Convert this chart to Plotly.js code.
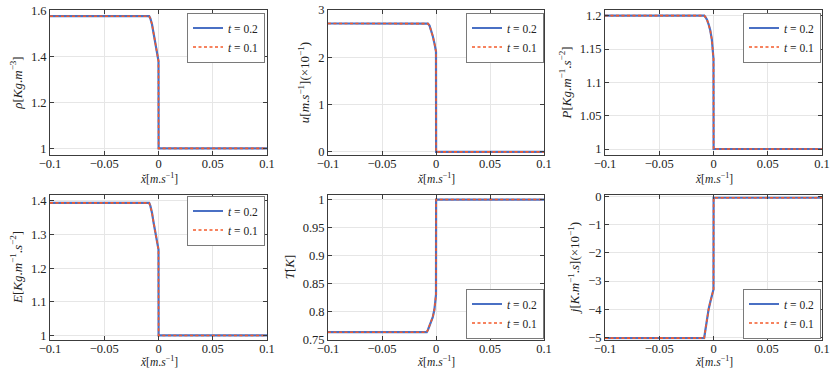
<!DOCTYPE html>
<html>
<head>
<meta charset="utf-8">
<script src="https://cdn.plot.ly/plotly-3.0.1.min.js"></script>
<style>html,body{margin:0;padding:0;background:#fff;}#chart{width:831px;height:369px;}</style>
</head>
<body>
<div id="chart"></div>
<script>
// Similarity variable x̆ (shared sample grid)
const xGrid = [-0.1, -0.0086, -0.0075, -0.006, -0.0045, -0.003, -0.0015, -0.0005, 0, 0.0001, 0.1];

// Values (t = 0.2 and t = 0.1 curves coincide)
const rho = [1.575, 1.575, 1.565, 1.54, 1.50, 1.46, 1.43, 1.41, 1.38, 1.0, 1.0];
const uVel = [2.715, 2.715, 2.712, 2.67, 2.58, 2.45, 2.30, 2.20, 2.12, 0, 0];
const pres = [1.2, 1.2, 1.198, 1.194, 1.187, 1.178, 1.164, 1.15, 1.135, 1.0, 1.0];
const energy = [1.394, 1.394, 1.385, 1.365, 1.335, 1.31, 1.285, 1.27, 1.255, 1.0, 1.0];
const temp = [0.763, 0.763, 0.767, 0.774, 0.782, 0.79, 0.803, 0.818, 0.83, 1.0, 1.0];
const flux = [-5.03, -5.03, -4.75, -4.35, -4.0, -3.75, -3.55, -3.42, -3.3, -0.035, -0.035];

const seriesNames = ['<i>t</i> = 0.2', '<i>t</i> = 0.1'];
const xTicks = [-0.1, -0.05, 0, 0.05, 0.1];
const xTickText = ['\u22120.1', '\u22120.05', '0', '0.05', '0.1'];
const xTitle = '<i>x̆</i>[<i>m</i>.<i>s</i><sup>\u22121</sup>]';

const panels = [
  {y: rho, title: '<i>ρ</i>[<i>Kg</i>.<i>m</i><sup>\u22123</sup>]', range: [0.971, 1.602],
   ticks: [1, 1.2, 1.4, 1.6], text: ['1', '1.2', '1.4', '1.6'], legendPos: 'top'},
  {y: uVel, title: '<i>u</i>[<i>m</i>.<i>s</i><sup>\u22121</sup>](×10<sup>\u22121</sup>)', range: [-0.065, 3.0],
   ticks: [0, 1, 2, 3], text: ['0', '1', '2', '3'], legendPos: 'top'},
  {y: pres, title: '<i>P</i>[<i>Kg</i>.<i>m</i><sup>\u22121</sup>.<i>s</i><sup>\u22122</sup>]', range: [0.991, 1.2085],
   ticks: [1, 1.05, 1.1, 1.15, 1.2], text: ['1', '1.05', '1.1', '1.15', '1.2'], legendPos: 'top'},
  {y: energy, title: '<i>E</i>[<i>Kg</i>.<i>m</i><sup>\u22121</sup>.<i>s</i><sup>\u22122</sup>]', range: [0.988, 1.419],
   ticks: [1, 1.1, 1.2, 1.3, 1.4], text: ['1', '1.1', '1.2', '1.3', '1.4'], legendPos: 'top'},
  {y: temp, title: '<i>T</i>[<i>K</i>]', range: [0.75, 1.009],
   ticks: [0.75, 0.8, 0.85, 0.9, 0.95, 1], text: ['0.75', '0.8', '0.85', '0.9', '0.95', '1'], legendPos: 'bottom'},
  {y: flux, title: '<i>j</i>[<i>K</i>.<i>m</i><sup>\u22121</sup>.<i>s</i>](×10<sup>\u22121</sup>)', range: [-5.08, 0.08],
   ticks: [-5, -4, -3, -2, -1, 0], text: ['\u22125', '\u22124', '\u22123', '\u22122', '\u22121', '0'], legendPos: 'bottom'}
];

const W = 831, H = 369;
const colPx = [[50, 267], [328, 544], [605, 822]];
const rowPx = [[10, 155], [194.5, 339.5]];
const xTitleBottom = [186, 369];
const legendRight = [265, 544, 821];
const legendTop = [12.5, 195.5];
const legendBottom = [338.5, 338.5];

const fontFam = 'Liberation Serif, DejaVu Serif, serif';
const axisColor = '#3c3c3c';
const gridColor = '#e6e6e6';

const traces = [];
const annotations = [];
const layout = {
  width: W, height: H,
  margin: {l: 0, r: 0, t: 0, b: 0, autoexpand: false},
  paper_bgcolor: '#ffffff', plot_bgcolor: '#ffffff',
  font: {family: fontFam, size: 12.5, color: '#222'},
  showlegend: true,
  annotations: annotations
};

panels.forEach((p, i) => {
  const r = Math.floor(i / 3), c = i % 3;
  const n = i + 1;
  const xa = n === 1 ? 'x' : 'x' + n;
  const ya = n === 1 ? 'y' : 'y' + n;
  const lg = n === 1 ? 'legend' : 'legend' + n;
  traces.push({x: xGrid, y: p.y, xaxis: xa, yaxis: ya, mode: 'lines', name: seriesNames[0],
    legend: lg, line: {color: '#4a70c4', width: 2.2}});
  traces.push({x: xGrid, y: p.y, xaxis: xa, yaxis: ya, mode: 'lines', name: seriesNames[1],
    legend: lg, line: {color: '#f45a2a', width: 1.6, dash: '3px,2.5px'}});

  const common = {
    showline: true, linecolor: axisColor, linewidth: 1, mirror: 'ticks',
    ticks: 'inside', ticklen: 4, tickcolor: axisColor, tickwidth: 1,
    showgrid: true, gridcolor: gridColor, gridwidth: 1, zeroline: false,
    tickfont: {family: fontFam, size: 12.5, color: '#222'}, automargin: false
  };
  layout[n === 1 ? 'xaxis' : 'xaxis' + n] = Object.assign({}, common, {
    domain: [colPx[c][0] / W, colPx[c][1] / W], anchor: ya,
    range: [-0.1, 0.1], tickmode: 'array', tickvals: xTicks, ticktext: xTickText,
    ticklabelstandoff: -3
  });
  layout[n === 1 ? 'yaxis' : 'yaxis' + n] = Object.assign({}, common, {
    domain: [1 - rowPx[r][1] / H, 1 - rowPx[r][0] / H], anchor: xa,
    range: p.range, tickmode: 'array', tickvals: p.ticks, ticktext: p.text,
    title: {text: p.title, font: {family: fontFam, size: 13}, standoff: 5}
  });
  // x-axis title placed under each panel
  annotations.push({
    text: xTitle, xref: 'paper', yref: 'paper',
    x: (colPx[c][0] + colPx[c][1]) / 2 / W, y: 1 - xTitleBottom[r] / H,
    xanchor: 'center', yanchor: 'bottom', showarrow: false, borderpad: 0,
    font: {family: fontFam, size: 11.5, color: '#222'}
  });
  const leg = {
    x: legendRight[c] / W, xanchor: 'right', xref: 'paper', yref: 'paper',
    bgcolor: '#ffffff', bordercolor: '#7a7a7a', borderwidth: 1,
    font: {family: fontFam, size: 11.5, color: '#222'},
    itemwidth: 30, tracegroupgap: 0
  };
  if (p.legendPos === 'top') {
    leg.y = 1 - legendTop[r] / H; leg.yanchor = 'top';
  } else {
    leg.y = 1 - legendBottom[r] / H; leg.yanchor = 'bottom';
  }
  layout[lg] = leg;
});

Plotly.newPlot('chart', traces, layout, {staticPlot: true, displayModeBar: false});
</script>
</body>
</html>
